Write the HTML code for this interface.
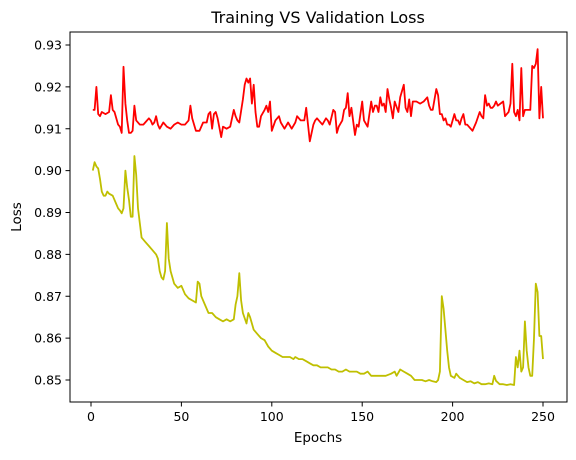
<!DOCTYPE html>
<html><head><meta charset="utf-8"><style>
html,body{margin:0;padding:0;background:#fff}
svg text{font-family:"DejaVu Sans","Liberation Sans",sans-serif;fill:#000}
</style></head><body>
<svg id="chart" width="576" height="455" xmlns="http://www.w3.org/2000/svg">
<text x="318" y="23" font-size="16" text-anchor="middle">Training VS Validation Loss</text>
<text x="318" y="442" font-size="13.5" text-anchor="middle">Epochs</text>
<text transform="translate(21,217) rotate(-90)" font-size="13.5" text-anchor="middle">Loss</text>
<g id="plot"></g>
</svg>
<script>
const trainEpochs=[1,2,3,4,5,6,7,8,9,10,12,14,15,16,17,18,19,20,21,22,23,24,25,26,28,30,32,34,36,37,38,39,40,41,42,43,44,46,48,50,52,54,56,58,59,60,61,63,65,67,69,71,73,75,77,79,80,81,82,83,84,86,87,88,90,92,94,96,98,100,102,104,106,108,110,112,113,115,117,119,121,123,125,127,129,131,133,135,137,139,141,143,145,147,149,151,153,155,157,160,163,166,168,169,171,173,175,177,179,181,183,185,187,189,191,192,193,194,195,196,197,198,199,201,202,204,206,208,210,212,214,216,218,220,222,223,224,226,228,230,232,234,235,236,237,238,239,240,241,242,243,244,245,246,247,248,249,250];
const trainLoss=[0.900,0.902,0.901,0.9005,0.898,0.895,0.894,0.894,0.895,0.8945,0.894,0.892,0.891,0.8905,0.8898,0.891,0.900,0.896,0.893,0.889,0.889,0.9035,0.899,0.891,0.884,0.883,0.882,0.881,0.880,0.879,0.876,0.8745,0.874,0.876,0.8875,0.879,0.876,0.873,0.872,0.8725,0.8705,0.8695,0.869,0.8685,0.8735,0.873,0.870,0.868,0.866,0.866,0.865,0.8645,0.864,0.8645,0.864,0.8645,0.868,0.870,0.8755,0.869,0.866,0.8635,0.866,0.865,0.862,0.861,0.860,0.8595,0.858,0.857,0.8565,0.856,0.8555,0.8555,0.8555,0.855,0.8555,0.855,0.855,0.8545,0.854,0.8535,0.8535,0.853,0.853,0.853,0.8525,0.8525,0.852,0.852,0.8525,0.852,0.852,0.852,0.8515,0.8515,0.852,0.851,0.851,0.851,0.851,0.8515,0.852,0.851,0.8525,0.852,0.8515,0.851,0.850,0.850,0.850,0.8497,0.850,0.8497,0.8495,0.850,0.852,0.870,0.867,0.862,0.857,0.853,0.851,0.8505,0.8515,0.8505,0.850,0.8495,0.8497,0.8492,0.8495,0.849,0.849,0.8492,0.849,0.851,0.8498,0.849,0.849,0.8488,0.849,0.8488,0.8555,0.853,0.857,0.852,0.853,0.864,0.857,0.853,0.851,0.851,0.860,0.873,0.871,0.8605,0.8605,0.855];
const valEpochs=[1,2,3,4,5,6,8,10,11,12,13,15,16,17,18,19,20,21,22,23,24,25,27,29,30,32,33,34,35,36,37,38,40,42,44,46,48,50,52,54,55,56,58,60,62,64,65,66,67,68,69,70,72,73,75,77,79,80,81,82,84,85,86,87,88,89,90,91,92,93,94,96,97,98,99,100,102,104,105,107,109,111,113,114,116,118,119,121,123,124,125,126,128,130,131,132,134,135,136,137,139,140,141,142,143,144,146,147,148,150,151,153,155,156,157,158,159,160,161,162,163,164,165,166,167,168,170,171,173,174,175,176,177,178,180,182,184,186,187,188,189,191,192,193,194,195,196,197,198,199,201,202,203,204,205,206,207,208,209,211,213,215,216,217,218,219,220,221,222,223,224,225,228,229,231,232,233,234,235,236,237,238,239,240,242,243,244,245,246,247,248,249,250];
const valLoss=[0.9145,0.9145,0.920,0.9135,0.913,0.914,0.9135,0.914,0.918,0.9145,0.914,0.911,0.9105,0.909,0.9248,0.916,0.912,0.909,0.909,0.9095,0.9155,0.912,0.911,0.911,0.9115,0.9125,0.912,0.911,0.9115,0.913,0.911,0.910,0.9115,0.9105,0.910,0.911,0.9115,0.911,0.911,0.912,0.9155,0.9125,0.9095,0.9095,0.9115,0.9115,0.9135,0.914,0.910,0.9135,0.914,0.9125,0.908,0.9105,0.910,0.9105,0.9145,0.913,0.912,0.9115,0.917,0.9205,0.922,0.921,0.922,0.916,0.9205,0.914,0.9105,0.9105,0.913,0.9145,0.9155,0.914,0.9165,0.9095,0.912,0.913,0.9115,0.910,0.9115,0.910,0.9115,0.913,0.912,0.912,0.915,0.907,0.911,0.912,0.9125,0.912,0.911,0.9125,0.912,0.911,0.9145,0.914,0.909,0.9105,0.912,0.9145,0.915,0.9185,0.913,0.915,0.9085,0.911,0.9105,0.9165,0.912,0.9105,0.9165,0.914,0.9155,0.9155,0.914,0.9175,0.9155,0.916,0.914,0.9195,0.917,0.915,0.9125,0.9165,0.914,0.9175,0.9205,0.915,0.914,0.917,0.913,0.9165,0.9165,0.916,0.9165,0.9175,0.9155,0.9145,0.9145,0.9195,0.918,0.9135,0.9135,0.912,0.9125,0.911,0.911,0.9105,0.9135,0.912,0.912,0.911,0.9125,0.9135,0.911,0.911,0.9105,0.9095,0.9115,0.914,0.913,0.9125,0.918,0.9155,0.916,0.915,0.915,0.9155,0.9165,0.9155,0.9165,0.913,0.914,0.916,0.9255,0.914,0.913,0.9145,0.912,0.9245,0.913,0.9145,0.9145,0.9145,0.925,0.9245,0.9255,0.929,0.9125,0.920,0.9125];
const xTicks=[0,50,100,150,200,250];
const yTicks=[0.85,0.86,0.87,0.88,0.89,0.90,0.91,0.92,0.93];

const L=70,R=567,T=32,B=402;
const xs=v=>91+(v-0)*(543-91)/250;
const ys=v=>380-(v-0.85)*(380-45)/0.08;
const NS="http://www.w3.org/2000/svg";
const g=document.getElementById('plot');
function mk(t,a){const e=document.createElementNS(NS,t);for(const k in a)e.setAttribute(k,a[k]);g.appendChild(e);return e;}
function line(ex,vals,color,name){
  const p=mk('polyline',{points:ex.map((e,i)=>xs(e).toFixed(1)+','+ys(vals[i]).toFixed(1)).join(' '),fill:'none',stroke:color,'stroke-width':1.8,'stroke-linejoin':'round'});
  
  
}
line(trainEpochs,trainLoss,'#bfbf00','training-loss-line');
line(valEpochs,valLoss,'#ff0000','validation-loss-line');
const frame=mk('rect',{x:L,y:T,width:R-L,height:B-T,fill:'none',stroke:'#000','stroke-width':1});


xTicks.forEach(t=>{
  const x=xs(t);
  const tk=mk('line',{x1:x,x2:x,y1:B,y2:B+4.5,stroke:'#000','stroke-width':1});
  
  
  const tx=mk('text',{x:x,y:B+19,'font-size':12.5,'text-anchor':'middle'});
  tx.textContent=t;
  
  
});
yTicks.forEach(t=>{
  const y=ys(t);
  const tk=mk('line',{x1:L-4.5,x2:L,y1:y,y2:y,stroke:'#000','stroke-width':1});
  
  
  const tx=mk('text',{x:L-8,y:y+4.5,'font-size':12.5,'text-anchor':'end'});
  tx.textContent=t.toFixed(2);
  
  
});
</script>
</body></html>
